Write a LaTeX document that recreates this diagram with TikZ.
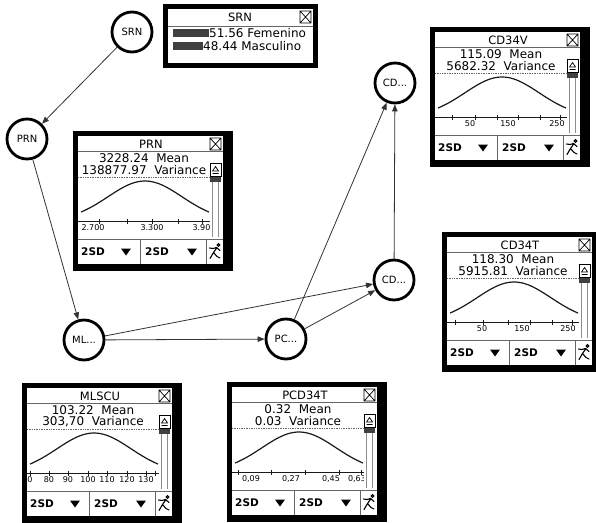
\documentclass[tikz,border=0pt]{standalone}
\usepackage{fontspec}
\setmainfont{DejaVu Sans}
\usetikzlibrary{arrows.meta}
\tikzset{
  varnode/.style={circle, draw, line width=2.8pt, fill=white, minimum size=40pt, inner sep=0pt,
      font=\fontsize{10}{11}\selectfont},
  link/.style={draw=black!80, line width=0.8pt, -{Triangle[length=7pt, width=5.5pt]}},
  titletext/.style={inner sep=0pt, font=\fontsize{11.5}{12}\selectfont},
  valtext/.style={inner sep=0pt, font=\fontsize{12}{12}\selectfont},
  ticktext/.style={inner sep=0pt, font=\fontsize{8}{8}\selectfont},
  seltext/.style={inner sep=0pt, font=\fontsize{10.5}{11}\selectfont\bfseries},
  sepline/.style={draw=black!60, line width=0.7pt},
  dotline/.style={draw=black!60, line width=0.7pt, densely dotted},
  curve/.style={draw=black!90, line width=1.2pt},
  axisline/.style={draw=black!90, line width=1pt},
}
% monitor window: position, title, mean, variance, ticks, labels
\newcommand{\monitorbox}[6]{%
  \begin{scope}[shift={#1}]
    % frame
    \fill[black] (0,0) rectangle (160,140);
    \fill[white] (5,5) rectangle (150,133);
    \draw[sepline] (5,20) -- (150,20);
    \node[titletext] (#2-title) at (78,13) {#2};
    \draw[line width=0.7pt] (137,7) rectangle (148,19) (137,7) -- (148,19) (137,19) -- (148,7);
    \node[valtext] (#2-mean) at (71,27) {#3\ \ Mean};
    \node[valtext] (#2-var) at (71,39) {#4\ \ Variance};
    \draw[dotline] (5,46) -- (137,46);
    % density and axis
    \draw[curve] plot[domain=8:136, samples=50] (\x,{90-40*exp(-((\x-72)^2)/2738)});
    \draw[axisline] (5,90) -- (137,90);
    \foreach \t in {#5} \draw[axisline] (\t,87.5) -- (\t,92.5);
    \foreach \t/\l in {#6} \node[ticktext] (#2-l\t) at (\t,97) {\l};
    % scrollbar
    \fill[white] (137,21) rectangle (150,107);
    \draw[line width=0.7pt] (137,32) rectangle (148,45);
    \draw[line width=0.7pt] (139.5,40) -- (142.5,35.5) -- (145.5,40) -- cycle (139.5,42.5) -- (145.5,42.5);
    \fill[black!75] (137,46) rectangle (148,51);
    \draw[draw=black!45, line width=0.6pt] (139.5,51) -- (139.5,106) (145.5,51) -- (145.5,106);
    % selectors
    \draw[sepline] (5,108) -- (150,108);
    \draw[sepline] (67,108) -- (67,133) (133,108) -- (133,133);
    \node[seltext, anchor=west] (#2-sdA) at (8,121) {2SD};
    \node[seltext, anchor=west] (#2-sdB) at (72,121) {2SD};
    \fill (48,117.5) -- (58,117.5) -- (53,124.5) -- cycle;
    \fill (114,117.5) -- (124,117.5) -- (119,124.5) -- cycle;
    % run icon
    \draw[line width=1.1pt, line cap=round] (145.5,114) circle (1.3)
      (144,116.5) -- (140.5,121.5) (136.5,117) -- (140,117.5) -- (143.5,116.5) -- (147,119.5)
      (140.5,121.5) -- (137,127.5) (140.5,121.5) -- (144,125.5) -- (147,127);
  \end{scope}}

\begin{document}
\begin{tikzpicture}[x=1pt, y=-1pt]
  \clip (0,0) rectangle (596,522);
  \fill[white] (0,0) rectangle (596,522);

  % network
  \node[varnode] (SRN) at (132,32) {SRN};
  \node[varnode] (PRN) at (27,139) {PRN};
  \node[varnode] (ML) at (84,340) {ML...};
  \node[varnode] (PC) at (286,339) {PC...};
  \node[varnode] (CDV) at (395,83) {CD...};
  \node[varnode] (CDT) at (394,280) {CD...};

  \draw[link] (SRN) -- (PRN);
  \draw[link] (PRN) -- (ML);
  \draw[link] (ML) -- (PC);
  \draw[link] (ML) -- (CDT);
  \draw[link] (PC) -- (CDT);
  \draw[link] (PC) -- (CDV);
  \draw[link] (CDT) -- (CDV);

  % SRN window
  \fill (163,4) rectangle (318,68);
  \fill[white] (168,9) rectangle (313,63);
  \draw[sepline] (168,26) -- (313,26);
  \node[titletext] (SRN-title) at (240,17) {SRN};
  \draw[line width=0.7pt] (300,11) rectangle (311,23) (300,11) -- (311,23) (300,23) -- (311,11);
  \fill[black!75] (173,29) rectangle (209,37);
  \node[valtext, anchor=west] (SRN-fem) at (209,33) {51.56 Femenino};
  \fill[black!75] (173,42) rectangle (203,50);
  \node[valtext, anchor=west] (SRN-mas) at (203,46) {48.44 Masculino};

  % monitor windows
  \monitorbox{(73,131)}{PRN}{3228.24}{138877.97}{26,54,79,105,129}{20/2.700,79/3.300,131/3.900}
  \monitorbox{(430,27)}{CD34V}{115.09}{5682.32}{22,45,67,88,110,130}{40/50,78/150,127/250}
  \monitorbox{(442,232)}{CD34T}{118.30}{5915.81}{13,41,66,88,110,130}{40/50,80/150,126/250}
  \monitorbox{(22,383)}{MLSCU}{103.22}{303,70}{8,27,46,66,85,105,124,133}{8/0,27/80,46/90,66/100,85/110,105/120,124/130}
  \monitorbox{(227,382)}{PCD34T}{0.32}{0.03}{11,44,78,112,134}{24/{0,09},64/{0,27},104/{0,45},130/{0,63}}
\end{tikzpicture}
\end{document}
